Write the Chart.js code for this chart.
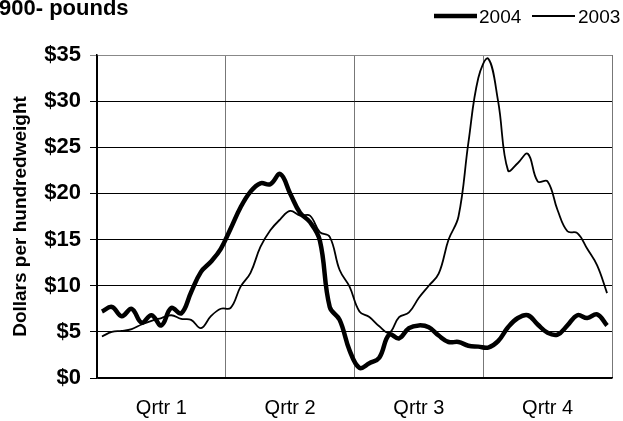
<!DOCTYPE html>
<html>
<head>
<meta charset="utf-8">
<script src="https://cdn.jsdelivr.net/npm/chart.js@4/dist/chart.umd.min.js"></script>
<style>
    html, body { margin: 0; padding: 0; background: #fff; }
    #wrap { width: 623px; height: 421px; position: relative; }
</style>
</head>
<body>
<div id="wrap"><canvas id="cwt-plot"></canvas></div>
<script>
// weekly prices, $ per hundredweight
const quarters = ["Qrtr 1", "Qrtr 2", "Qrtr 3", "Qrtr 4"];
const yTicks = [0, 5, 10, 15, 20, 25, 30, 35];
const series2004 = [7.2, 7.7, 6.7, 7.5, 6.0, 6.8, 5.7, 7.6, 7.0, 9.3, 11.5, 12.6, 14.0,
    16.2, 18.5, 20.2, 21.1, 21.0, 22.1, 20.0, 17.9, 16.9, 14.9, 7.7, 6.3, 3.0,
    1.1, 1.6, 2.2, 4.7, 4.3, 5.4, 5.7, 5.5, 4.6, 3.9, 3.9, 3.5, 3.4,
    3.3, 4.0, 5.5, 6.5, 6.8, 5.8, 4.9, 4.7, 5.7, 6.8, 6.5, 6.9, 5.7];
const series2003 = [4.5, 5.0, 5.1, 5.3, 5.8, 6.2, 6.5, 6.8, 6.4, 6.3, 5.4, 6.7, 7.5,
    7.6, 9.9, 11.4, 14.2, 16.0, 17.2, 18.1, 17.6, 17.6, 15.8, 15.3, 11.7, 9.9,
    7.2, 6.6, 5.6, 4.9, 6.6, 7.1, 8.7, 10.0, 11.3, 15.0, 17.5, 25.5, 32.5,
    34.6, 30.0, 22.5, 23.3, 24.3, 21.3, 21.3, 18.2, 15.9, 15.7, 14.0, 12.2, 9.2];

const FONT = "'Liberation Sans', Arial, sans-serif";

const toPoints = (arr) => arr.map((v, i) => ({ x: i, y: v }));

// title (cut off at the left like the source) and the line legend
const extras = {
    id: "extras",
    afterDraw(chart) {
        const c = chart.ctx;
        c.save();
        c.fillStyle = "#000";
        c.font = "bold 22px " + FONT;
        c.textBaseline = "alphabetic";
        c.textAlign = "left";
        c.fillText("900- pounds", -1, 15);

        c.strokeStyle = "#000";
        c.lineCap = "butt";
        c.font = "19px " + FONT;
        c.lineWidth = 4.5;
        c.beginPath(); c.moveTo(434, 16); c.lineTo(477, 16); c.stroke();
        c.fillText("2004", 479, 23);
        c.lineWidth = 1.8;
        c.beginPath(); c.moveTo(532, 16); c.lineTo(575, 16); c.stroke();
        c.fillText("2003", 578, 23);
        c.restore();
    }
};

const ctx = document.getElementById("cwt-plot").getContext("2d");
const cwtChart = new Chart(ctx, {
    type: "line",
    data: {
        labels: quarters,
        datasets: [{
            label: "2004",
            data: toPoints(series2004),
            xAxisID: "xw",
            borderColor: "#000",
            borderWidth: 4.5,
            tension: 0.4,
            pointRadius: 0,
            fill: false,
        }, {
            label: "2003",
            data: toPoints(series2003),
            xAxisID: "xw",
            borderColor: "#000",
            borderWidth: 1.8,
            tension: 0.4,
            pointRadius: 0,
            fill: false,
        }]
    },
    options: {
        responsive: true,
        maintainAspectRatio: false,
        animation: false,
        layout: {
            padding: { top: 55, right: 11, bottom: 0, left: 0 }
        },
        scales: {
            x: {
                type: "category",
                offset: true,
                grid: {
                    offset: true,
                    drawTicks: false,
                    lineWidth: 1,
                    color: (g) => (g.index === 0 || g.index === 4) ? "#000" : "#777",
                },
                border: { display: true, color: "#000", width: 1.5 },
                ticks: {
                    color: "#000",
                    padding: 18,
                    font: { family: FONT, size: 20 },
                },
                afterFit: (scale) => { scale.height = 43; },
            },
            xw: {
                type: "linear",
                display: false,
                min: -0.5,
                max: 51.5,
            },
            y: {
                min: 0,
                max: 35,
                afterBuildTicks: (scale) => {
                    scale.ticks = yTicks.map(v => ({ value: v }));
                },
                grid: {
                    color: (g) => g.index === yTicks.length - 1 ? "#888" : "#000",
                    lineWidth: 1,
                    tickLength: 7,
                },
                border: { display: true, color: "#000", width: 1.5 },
                ticks: {
                    color: "#000",
                    padding: 9,
                    font: { family: FONT, size: 22, weight: "bold" },
                    callback: (v) => "$" + v,
                },
                title: {
                    display: true,
                    text: "Dollars per hundredweight",
                    color: "#000",
                    padding: { top: 9, bottom: 0 },
                    font: { family: FONT, size: 19, weight: "bold" },
                },
                afterFit: (scale) => { scale.width = 97; },
            }
        },
        plugins: {
            legend: { display: false },
            tooltip: { enabled: false },
        },
    },
    plugins: [extras],
});
</script>
</body>
</html>
